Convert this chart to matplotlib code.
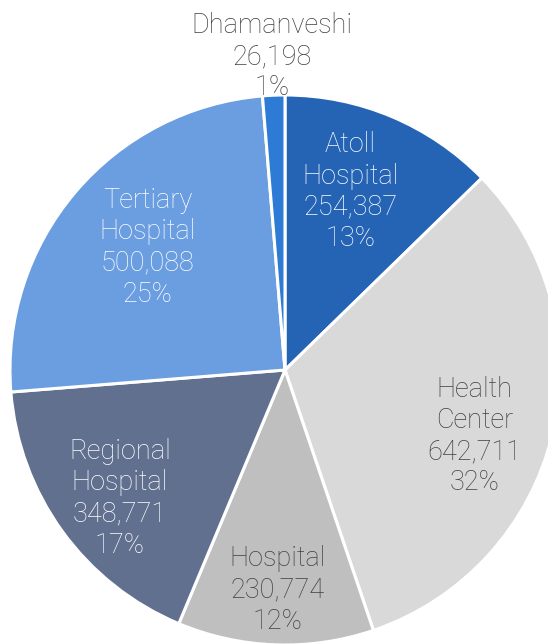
import numpy as np
import matplotlib.pyplot as plt

plt.rcParams['font.family'] = ['Roboto', 'DejaVu Sans']

# ----------------------
# Dados
# ----------------------
categorias = ['Atoll\nHospital', 'Health\nCenter', 'Hospital', 'Regional\nHospital',
              'Tertiary\nHospital', 'Dhamanveshi']
valores = [254387, 642711, 230774, 348771, 500088, 26198]
cores = ['#2563B5', '#D9D9D9', '#BFBFBF', '#61708F', '#6A9EE0', '#2E7BD6']
cor_texto = ['white', '#404040', '#404040', 'white', 'white', '#404040']
# posição dos rótulos: fração do raio e desvio angular (graus, sentido horário)
dist_label = [0.69, 0.73, 0.80, 0.76, 0.67, 1.14]
desvio_ang = [-2.8, 5.7, 0.0, -1.9, 1.4, 0.0]

# ----------------------
# Gráfico
# ----------------------
fig = plt.figure(figsize=(5.48, 6.44), dpi=100)
ax = fig.add_axes([0, 0, 1, 1])

cx, cy, R = 285, 644 - 370, 275
wedges, _ = ax.pie(valores, colors=cores, startangle=90, counterclock=False,
                   center=(cx, cy), radius=R, frame=True,
                   wedgeprops=dict(edgecolor='white', linewidth=2.2))
ax.set_xlim(0, 548)
ax.set_ylim(0, 644)
ax.set_aspect('equal')
ax.axis('off')

total = sum(valores)
for w, cat, v, c, d, da in zip(wedges, categorias, valores, cor_texto, dist_label, desvio_ang):
    ang = np.deg2rad((w.theta1 + w.theta2) / 2 - da)
    x = cx + d * R * np.cos(ang)
    y = cy + d * R * np.sin(ang)
    txt = f"{cat}\n{v:,}\n{round(100 * v / total)}%"
    ax.text(x, y, txt, ha='center', va='center', color=c, fontsize=19.5,
            fontweight='light', linespacing=1.2)

fig.savefig('out.png', dpi=100)
